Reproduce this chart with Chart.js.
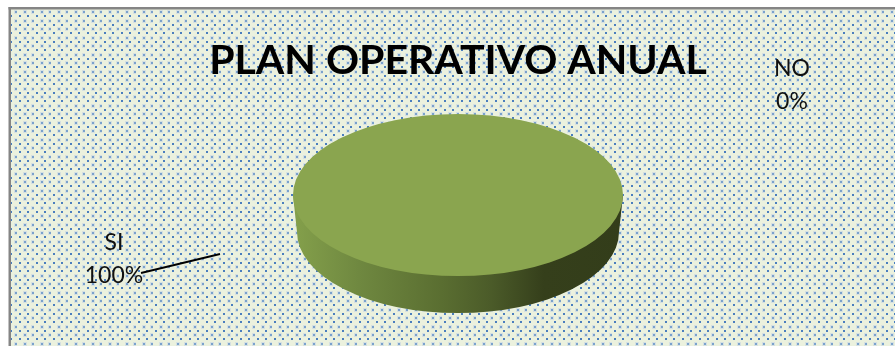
<!DOCTYPE html>
<html>
<head>
    <title>Plan Operativo Anual</title>
    <script src="https://cdn.jsdelivr.net/npm/chart.js@4"></script>
    <style>
        html, body { margin: 0; padding: 0; background: #fff; overflow: hidden; }
        canvas { display: block; }
    </style>
</head>
<body>
    <canvas id="planChart" width="895" height="346"></canvas>

    <script>
        const categorias = ['SI', 'NO'];
        const valores = [100, 0];
        const colores = ['#8AA54F', '#C0504D'];
        const titulo = 'PLAN OPERATIVO ANUAL';

        // Tamaño del disco en pantalla
        const radioX = 165;
        const radioY = 81;
        const grosor = 37;

        // Trama de puntos del fondo
        function crearTrama(ctx) {
            const tile = document.createElement('canvas');
            tile.width = 17;
            tile.height = 17;
            const t = tile.getContext('2d');
            t.fillStyle = '#EBF1DE';
            t.fillRect(0, 0, 17, 17);
            const punto = (x, y, color, lado) => {
                t.fillStyle = color;
                t.fillRect(x - lado / 2, y - lado / 2, lado, lado);
            };
            [[8, 4], [16, 4], [8, 12], [16, 12]].forEach(([x, y]) => {
                punto(x, y, '#D5E0E2', 4);
                punto(x, y, '#7AA2CC', 2);
            });
            [[3, 8], [11, 8], [3, 16], [11, 16]].forEach(([x, y]) => {
                punto(x, y, '#4A7EBE', 2);
            });
            return ctx.createPattern(tile, 'repeat');
        }

        const fondo = {
            id: 'fondo',
            beforeDraw(chart) {
                const ctx = chart.ctx;
                ctx.save();
                ctx.fillStyle = '#FFFFFF';
                ctx.fillRect(0, 0, chart.width, chart.height);
                ctx.fillStyle = crearTrama(ctx);
                ctx.fillRect(9, 8, chart.width - 9, chart.height - 8);
                ctx.fillStyle = '#858585';
                ctx.fillRect(8.5, 7, chart.width, 2.5);
                ctx.fillRect(8.5, 7, 2.5, chart.height);
                ctx.restore();
            }
        };

        // Aplana el círculo del pastel y dibuja el canto debajo
        const disco = {
            id: 'disco',
            beforeDatasetDraw(chart, args) {
                const arco = chart.getDatasetMeta(args.index).data[0];
                const { x, y, outerRadius } = arco.getProps(['x', 'y', 'outerRadius'], true);
                const ctx = chart.ctx;

                const grad = ctx.createLinearGradient(x - radioX, 0, x + radioX, 0);
                grad.addColorStop(0, '#84A04B');
                grad.addColorStop(0.2, '#6F8840');
                grad.addColorStop(0.45, '#5A6E31');
                grad.addColorStop(0.6, '#4B5B29');
                grad.addColorStop(0.76, '#353F1B');
                grad.addColorStop(1, '#333D1A');
                ctx.save();
                ctx.fillStyle = grad;
                ctx.beginPath();
                ctx.moveTo(x - radioX, y);
                ctx.lineTo(x - radioX + 4, y + grosor);
                ctx.ellipse(x, y + grosor, radioX - 4, radioY, 0, Math.PI, 0, true);
                ctx.lineTo(x + radioX, y);
                ctx.closePath();
                ctx.fill();
                ctx.restore();

                ctx.save();
                ctx.translate(x, y);
                ctx.scale(radioX / outerRadius, radioY / outerRadius);
                ctx.translate(-x, -y);
            },
            afterDatasetDraw(chart) {
                chart.ctx.restore();
            }
        };

        // Etiquetas de categoría y porcentaje
        const etiquetas = {
            id: 'etiquetas',
            afterDraw(chart) {
                const ctx = chart.ctx;
                const pos = [[114, 243, 276], [792, 69, 102]];
                ctx.save();
                ctx.font = '23px Lato';
                ctx.fillStyle = '#111111';
                ctx.textAlign = 'center';
                ctx.textBaseline = 'middle';
                categorias.forEach((cat, i) => {
                    ctx.fillText(cat, pos[i][0], pos[i][1]);
                    ctx.fillText(valores[i] + '%', pos[i][0], pos[i][2]);
                });
                // Línea guía de SI
                ctx.strokeStyle = '#000000';
                ctx.lineWidth = 1.8;
                ctx.beginPath();
                ctx.moveTo(141, 273);
                ctx.lineTo(220, 254);
                ctx.stroke();
                ctx.restore();
            }
        };

        new Chart(document.getElementById('planChart'), {
            type: 'pie',
            data: {
                labels: categorias,
                datasets: [{
                    data: valores,
                    backgroundColor: colores,
                    borderWidth: 0
                }]
            },
            options: {
                responsive: false,
                animation: false,
                layout: { padding: { left: 21, top: 38, bottom: 39 } },
                plugins: {
                    legend: { display: false },
                    tooltip: { enabled: false },
                    title: {
                        display: true,
                        text: titulo,
                        fullSize: false,
                        color: '#000000',
                        font: { family: 'Lato', size: 41, weight: 'bold', lineHeight: 1.1 },
                        padding: 0
                    }
                }
            },
            plugins: [fondo, disco, etiquetas]
        });
    </script>
</body>
</html>
